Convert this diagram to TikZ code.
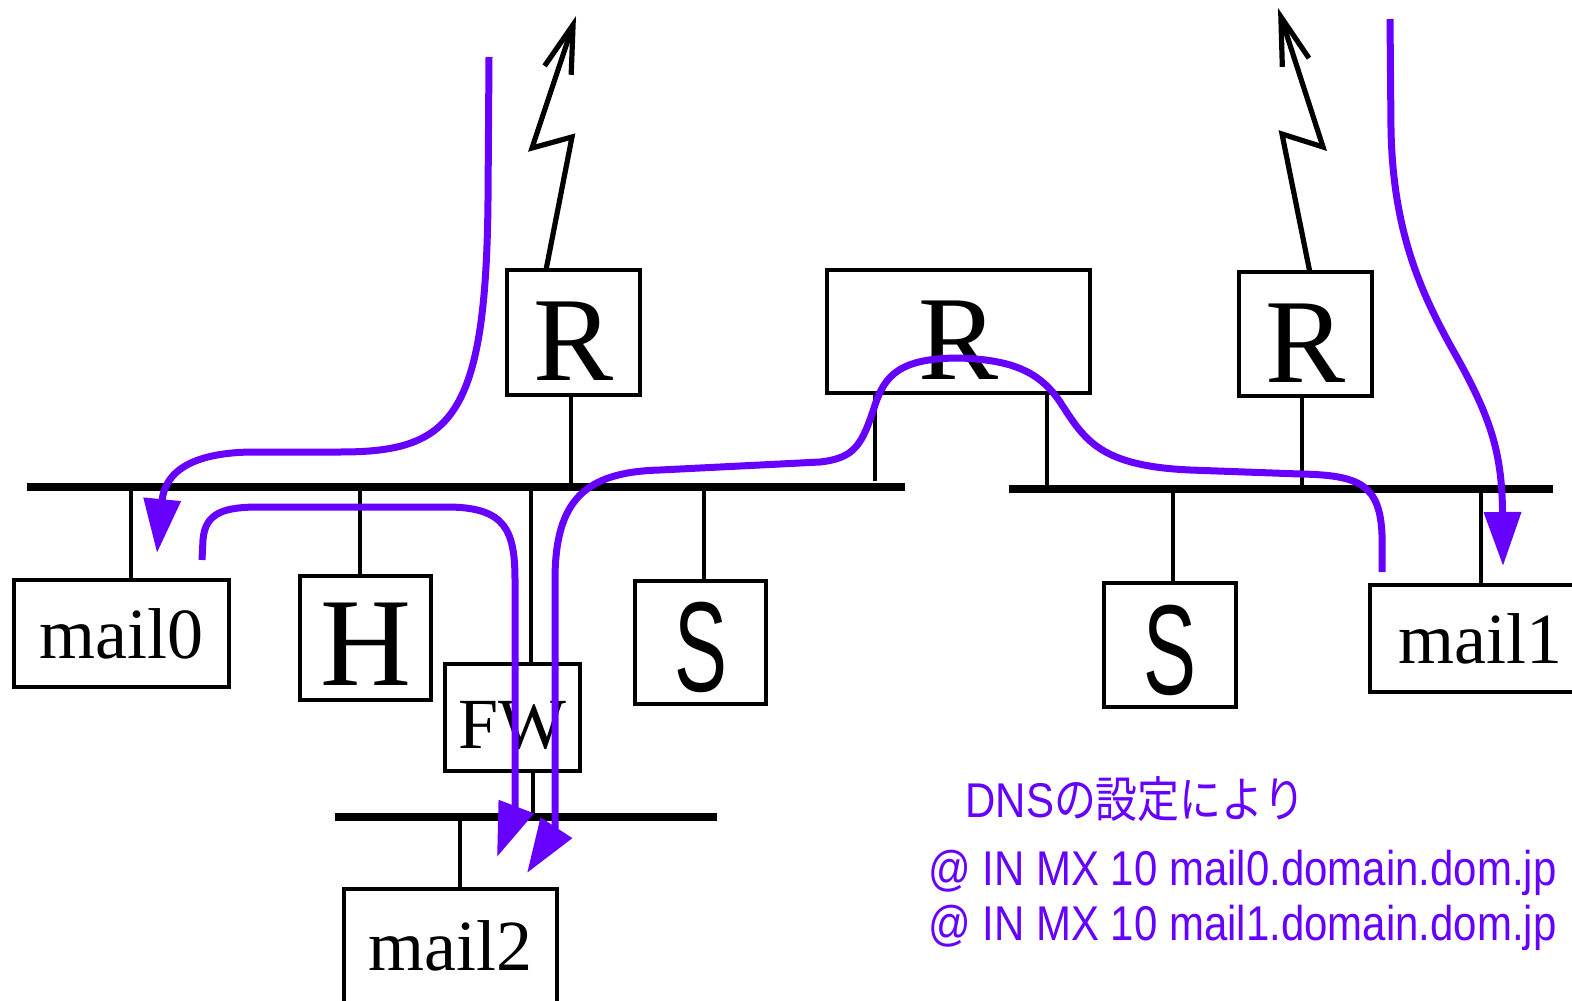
\documentclass[tikz,border=0pt]{standalone}
\usepackage{fontspec}
\usepackage{graphicx}
\setmainfont{Liberation Serif}
\newfontfamily\dnsfont{Liberation Sans}
\newfontfamily\jpfont{Noto Sans CJK JP}
\usepackage{tikz}
\usetikzlibrary{positioning,arrows.meta}
\definecolor{cRoute}{HTML}{6600FF}
\definecolor{cLine}{HTML}{000000}
\newcommand{\narrowS}{\scalebox{0.62}[1]{\dnsfont S}}
\newcommand{\squeeze}[1]{\scalebox{0.86}[1]{#1}}

\begin{document}
\begin{tikzpicture}[x=0.5pt, y=-0.5pt,
    box/.style={draw=cLine, line width=1.7pt, inner sep=0pt},
    rtr/.style={box, font=\fontsize{60}{60}\selectfont, text height=48pt},
    srv/.style={box, font=\fontsize{64}{64}\selectfont, text height=50pt},
    host/.style={box, font=\fontsize{36}{36}\selectfont},
    bus/.style={cLine, line width=3.6pt},
    stem/.style={cLine, line width=2pt},
    zap/.style={cLine, line width=2.6pt, line join=miter,
      -{Straight Barb[length=24pt,width=14pt,line width=2.6pt]}},
    route/.style={cRoute, line width=3.5pt,
      -{Triangle[length=27pt,width=18pt]}},
    dns/.style={text=cRoute, inner sep=0pt, anchor=base west,
      font=\dnsfont\fontsize{24.4}{24.4}\selectfont}]
    \useasboundingbox (0,0) rectangle (1572,1000);

    % --- segments ------------------------------------------------------
    \coordinate (lanA-w) at (27,487);   \coordinate (lanA-e) at (905,487);
    \coordinate (lanB-w) at (1009,489); \coordinate (lanB-e) at (1553,489);
    \coordinate (lanC-w) at (335,817);  \coordinate (lanC-e) at (717,817);
    \draw[bus] (lanA-w) -- (lanA-e);
    \draw[bus] (lanB-w) -- (lanB-e);
    \draw[bus] (lanC-w) -- (lanC-e);

    % --- boxes ---------------------------------------------------------
    \node[rtr, minimum width=66.5pt, minimum height=62.5pt] (rtrL) at (573.5,332.5) {R};
    \node[rtr, minimum width=131.5pt, minimum height=61.5pt] (rtrM) at (958.5,331.5) {R};
    \node[rtr, minimum width=66.5pt, minimum height=62pt] (rtrR) at (1305.5,334) {R};
    \node[host, minimum width=107.5pt, minimum height=53.5pt] (mail0) at (121.5,633.5) {mail0};
    \node[box, font=\fontsize{63}{63}\selectfont, text height=47pt,
      minimum width=65.5pt, minimum height=62pt] (hub) at (365.5,638) {H};
    \node[host, text height=32pt, minimum width=67.5pt, minimum height=53.5pt] (fw) at (512.5,717.5) {FW};
    \node[srv, minimum width=65.5pt, minimum height=61.5pt] (srvL) at (700.5,642.5) {\narrowS};
    \node[srv, minimum width=66pt, minimum height=62pt] (srvR) at (1170,645) {\narrowS};
    \node[host, minimum width=110pt, minimum height=53.5pt] (mail1) at (1480,638.5) {mail1};
    \node[host, minimum width=106.5pt, minimum height=57pt] (mail2) at (450.5,946) {mail2};

    % --- taps onto the segments ----------------------------------------
    \coordinate (tapM0) at (131,487);  \coordinate (tapH) at (360,487);
    \coordinate (tapFW) at (531,487);  \coordinate (tapSL) at (704,487);
    \coordinate (tapRL) at (571,487);  \coordinate (tapM1) at (875,481);
    \coordinate (tapM2) at (1047,489); \coordinate (tapRR) at (1302,489);
    \coordinate (tapSR) at (1173,489); \coordinate (tapMl1) at (1481,489);
    \coordinate (tapFWb) at (533,817); \coordinate (tapMl2) at (460,817);
    \draw[stem] (tapM0) -- (tapM0 |- mail0.north);
    \draw[stem] (tapH) -- (tapH |- hub.north);
    \draw[stem] (tapFW) -- (tapFW |- fw.north);
    \draw[stem] (tapSL) -- (tapSL |- srvL.north);
    \draw[stem] (tapRL) -- (tapRL |- rtrL.south);
    \draw[stem] (tapM1) -- (tapM1 |- rtrM.south);
    \draw[stem] (tapM2) -- (tapM2 |- rtrM.south);
    \draw[stem] (tapRR) -- (tapRR |- rtrR.south);
    \draw[stem] (tapSR) -- (tapSR |- srvR.north);
    \draw[stem] (tapMl1) -- (tapMl1 |- mail1.north);
    \draw[stem] (tapFWb) -- (tapFWb |- fw.south);
    \draw[stem] (tapMl2) -- (tapMl2 |- mail2.north);

    % --- uplinks -------------------------------------------------------
    \coordinate (upL) at (546,270);  \coordinate (upR) at (1310,273);
    \draw[zap] (upL) -- (572,137) -- (532,148) -- (576,16);
    \draw[zap] (upR) -- (1282,134) -- (1323,147) -- (1278,8);

    % --- mail routes ---------------------------------------------------
    \draw[route] (489,57) -- (488,200) .. controls (486,420) and (450,452) .. (340,452)
      -- (255,452) .. controls (195,452) and (165,470) .. (157,553);
    \draw[route] (202,560) -- (203,540) .. controls (205,512) and (225,507) .. (260,507)
      -- (450,507) .. controls (505,508) and (515,530) .. (515,580)
      -- (515,790) .. controls (515,810) .. (497,857);
    \draw[route] (1382,572) -- (1382,535) .. controls (1380,485) and (1360,475) .. (1300,474)
      -- (1190,470) .. controls (1100,466) and (1085,440) .. (1062,405)
      .. controls (1040,370) and (1010,360) .. (960,358)
      .. controls (900,358) and (885,375) .. (875,405)
      .. controls (862,445) and (855,458) .. (820,462)
      -- (660,470) .. controls (585,472) and (555,500) .. (555,580)
      -- (555,800) .. controls (555,830) .. (527,873);
    \draw[route] (1390,19) -- (1391,130) .. controls (1393,230) and (1420,290) .. (1450,345)
      .. controls (1490,415) and (1502,450) .. (1503,566);

    % --- DNS note ------------------------------------------------------
    \node[dns] (dnsHead) at (965,817) {\squeeze{DNS{\jpfont の設定により}}};
    \node[dns] (mx0) at (928,885) {\squeeze{@ IN MX 10 mail0.domain.dom.jp}};
    \node[dns] (mx1) at (928,940) {\squeeze{@ IN MX 10 mail1.domain.dom.jp}};
  \end{tikzpicture}
\end{document}
